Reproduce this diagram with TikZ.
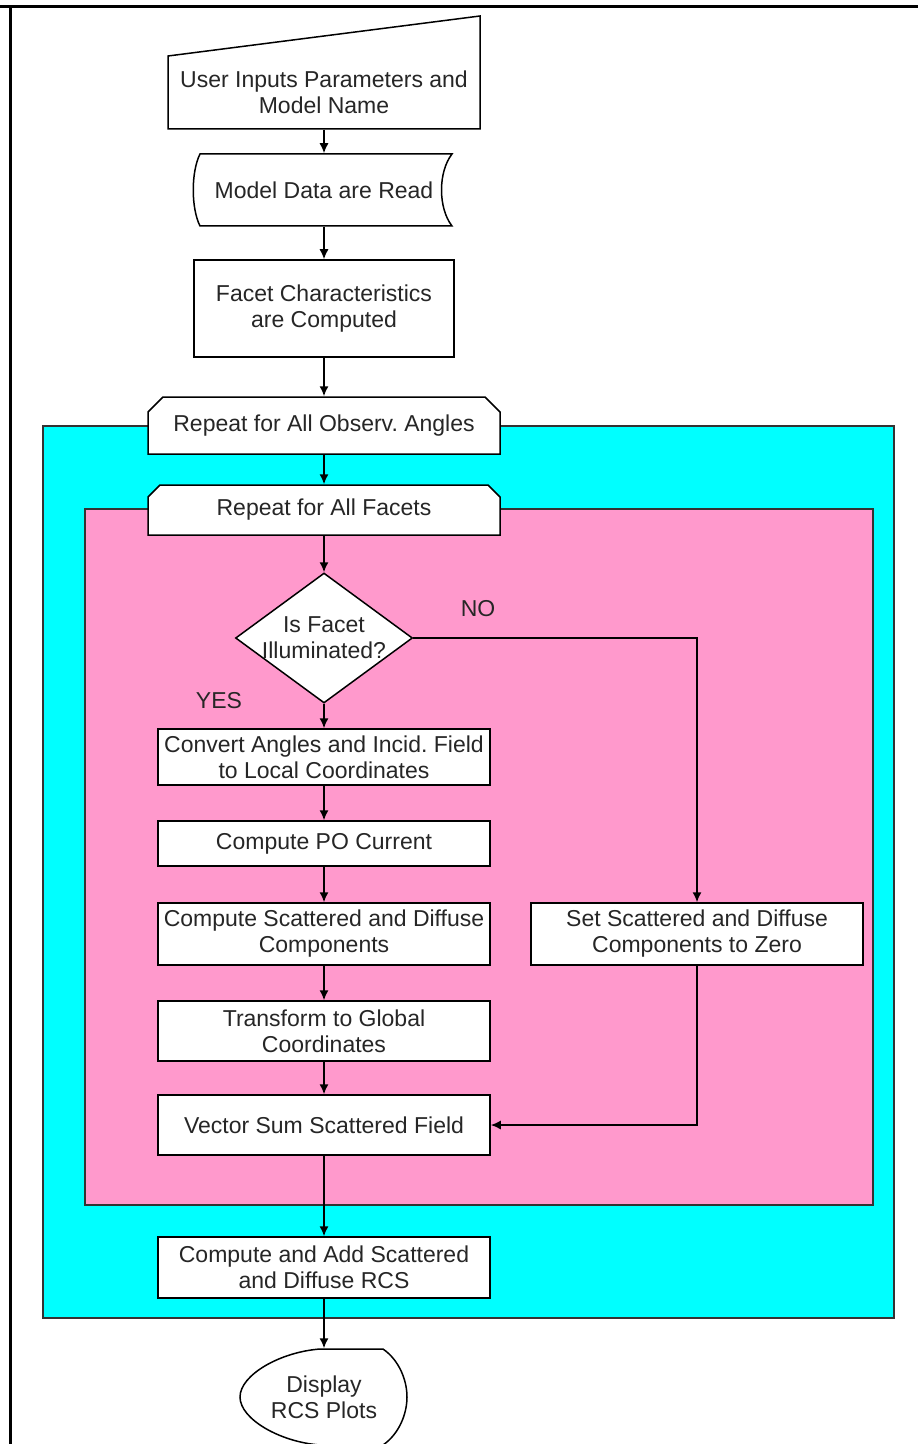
\documentclass[tikz,border=0pt]{standalone}
\usepackage{fontspec}
\setmainfont{Liberation Sans}
\usetikzlibrary{arrows.meta,shapes.geometric,backgrounds}
\definecolor{loopcyan}{HTML}{00FFFF}
\definecolor{looppink}{HTML}{FF99CC}
\frenchspacing
\begin{document}
\begin{tikzpicture}[x=0.5pt,y=-0.5pt,>/.tip={Latex[length=5pt,width=4.5pt]},line width=0.75pt,
    every node/.style={font=\fontsize{11.5}{13}\selectfont,text=black!85,align=center,inner sep=0pt},
    box/.style={draw,fill=white,minimum width=166pt},
    shapetext/.style={minimum width=120pt},
    outline/.style={draw,fill=white,line width=0.75pt},
    region/.style={draw=black!80,fill=#1,line width=0.75pt}]
    \useasboundingbox (0,0) rectangle (918,1444);
    \node [shapetext,minimum height=36.5pt] (inp) at (324,92.5) {User Inputs Parameters and\\Model Name};
    \node [shapetext,minimum height=36pt] (read) at (324,190) {Model Data are Read};
    \node [box,minimum width=130pt,minimum height=48.5pt] (facet) at (324,308.5) {Facet Characteristics\\are Computed};
    \node [shapetext,minimum height=28.5pt] (obs) at (324,425.5) {Repeat for All Observ. Angles};
    \node [shapetext,minimum height=25pt] (fac) at (324,510) {Repeat for All Facets};
    \node [diamond,draw,fill=white,minimum width=88.5pt,minimum height=65pt] (illum) at (324,638)
        {\makebox[0pt]{Is Facet}\\\makebox[0pt]{Illuminated?}};
    \foreach \n/\y/\h/\t in {conv/757/28/{Convert Angles and Incid. Field\\to Local Coordinates},
        po/843.5/22.5/{Compute PO Current},
        scat/934/31/{Compute Scattered and Diffuse\\Components},
        glob/1031/30/{Transform to Global\\Coordinates},
        vsum/1125/30/{Vector Sum Scattered Field}} {
        \node [box,minimum height=\h pt] (\n) at (324,\y) {\t};
    }
    \node [box,minimum height=31pt] (zero) at (697,934) {Set Scattered and Diffuse\\Components to Zero};
    \node [box,minimum height=30.5pt] (rcs) at (324,1267.5) {Compute and Add Scattered\\and Diffuse RCS};
    \node [shapetext,minimum width=60pt,minimum height=48pt] (disp) at (324,1397) {Display\\RCS Plots};
    \node (no) at (478,609) {NO};
    \node (yes) at (219,701) {YES};
    \begin{scope}[on background layer]
        \path [region=loopcyan] (43,426) rectangle (894,1318);
        \path [region=looppink] (85,509) rectangle (873,1205);
        \path [outline] (168,129) -- (168,56) -- (480,16) -- (480,129) -- cycle;
        \path [outline] (200,154) -- (452,154) .. controls (438,172) and (438,208) .. (452,226)
            -- (200,226) .. controls (191,208) and (191,172) .. (200,154) -- cycle;
        \path [outline] (148,454) -- (148,412) -- (163,397) -- (485,397) -- (500,412) -- (500,454) -- cycle;
        \path [outline] (148,535) -- (148,497) -- (160,485) -- (488,485) -- (500,497) -- (500,535) -- cycle;
        \path [outline] (320,1349) -- (383,1349) .. controls (399,1360) and (407,1380) .. (407,1397)
            .. controls (407,1414) and (399,1434) .. (383,1445) -- (320,1445)
            .. controls (280,1442) and (240,1419) .. (240,1397)
            .. controls (240,1375) and (280,1352) .. (320,1349) -- cycle;
    \end{scope}
    \draw [->] (inp.south) -- (read.north);
    \draw [->] (read.south) -- (facet.north);
    \draw [->] (facet.south) -- (obs.north);
    \draw [->] (obs.south) -- (fac.north);
    \draw [->] (fac.south) -- (illum.north);
    \draw [->] (illum.south) -- (conv.north);
    \foreach \a/\b in {conv/po,po/scat,scat/glob,glob/vsum}
        \draw [->] (\a) -- (\b);
    \draw [->] (illum.east) -| (zero.north);
    \draw [->] (zero.south) |- (vsum.east);
    \draw [->] (vsum.south) -- (rcs.north);
    \draw [->] (rcs.south) -- (disp.north);
    \draw [line width=1.5pt] (0,7) -- (918,7) (10,7) -- (10,1444);
\end{tikzpicture}
\end{document}
